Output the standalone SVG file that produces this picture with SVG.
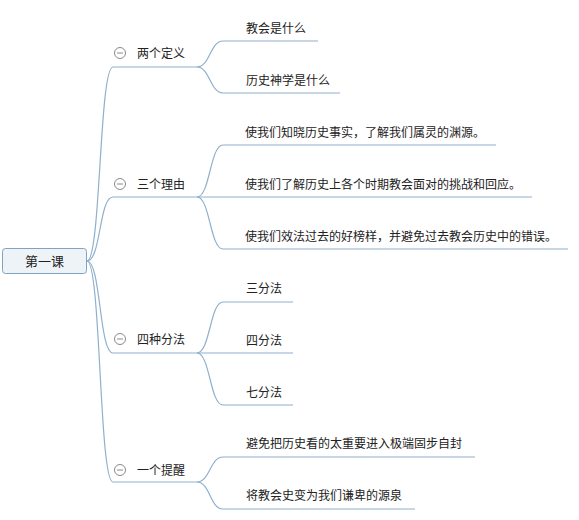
<svg xmlns="http://www.w3.org/2000/svg" width="579" height="520" viewBox="0 0 579 520">
<style>
.ln{fill:none;stroke:#8fb0cc;stroke-width:1.2}
.t{font-family:"Noto Sans CJK SC","Noto Sans",sans-serif;font-size:12px;fill:#222}
.r{font-family:"Noto Sans CJK SC","Noto Sans",sans-serif;font-size:13px;fill:#222}
.c{fill:#fff;stroke:#8a8a8a;stroke-width:1}
.m{stroke:#8a8a8a;stroke-width:1}
</style>
<rect width="579" height="520" fill="#ffffff"/>
<g id="connectors">
<path class="ln" d="M87,261 C101,261 99,67 113,67 H197"/>
<path class="ln" d="M87,261 C101,261 99,197 113,197 H197"/>
<path class="ln" d="M87,261 C101,261 99,353 113,353 H197"/>
<path class="ln" d="M87,261 C101,261 99,482 113,482 H197"/>
<path class="ln" d="M197,67 C210,67 210,41 223,41 H318"/>
<path class="ln" d="M197,67 C210,67 210,93 223,93 H340"/>
<path class="ln" d="M197,197 C210,197 210,145 223,145 H496"/>
<path class="ln" d="M197,197 H532"/>
<path class="ln" d="M197,197 C210,197 210,249 223,249 H568"/>
<path class="ln" d="M197,353 C210,353 210,302 223,302 H293"/>
<path class="ln" d="M197,353 H293"/>
<path class="ln" d="M197,353 C210,353 210,405 223,405 H293"/>
<path class="ln" d="M197,482 C210,482 210,457 223,457 H475"/>
<path class="ln" d="M197,482 C210,482 210,509 223,509 H415"/>
</g>
<g id="root">
<rect x="2.5" y="248.5" width="84" height="25" rx="3" fill="#eef3f8" stroke="#7fa3c4" stroke-width="1"/>
<text class="r" x="44.5" y="265.5" text-anchor="middle">第一课</text>
</g>
<g id="n1">
<circle class="c" cx="120" cy="53" r="5.5"/><line class="m" x1="117" y1="53" x2="123" y2="53"/>
<text class="t" x="137" y="58">两个定义</text>
</g>
<g id="n1a"><text class="t" x="246" y="33">教会是什么</text></g>
<g id="n1b"><text class="t" x="246" y="85">历史神学是什么</text></g>
<g id="n2">
<circle class="c" cx="120" cy="184" r="5.5"/><line class="m" x1="117" y1="184" x2="123" y2="184"/>
<text class="t" x="137" y="189">三个理由</text>
</g>
<g id="n2a"><text class="t" x="245" y="137">使我们知晓历史事实，了解我们属灵的渊源。</text></g>
<g id="n2b"><text class="t" x="245" y="189">使我们了解历史上各个时期教会面对的挑战和回应。</text></g>
<g id="n2c"><text class="t" x="245" y="241">使我们效法过去的好榜样，并避免过去教会历史中的错误。</text></g>
<g id="n3">
<circle class="c" cx="120" cy="339" r="5.5"/><line class="m" x1="117" y1="339" x2="123" y2="339"/>
<text class="t" x="137" y="344">四种分法</text>
</g>
<g id="n3a"><text class="t" x="246" y="293">三分法</text></g>
<g id="n3b"><text class="t" x="246" y="345">四分法</text></g>
<g id="n3c"><text class="t" x="246" y="397">七分法</text></g>
<g id="n4">
<circle class="c" cx="120" cy="470" r="5.5"/><line class="m" x1="117" y1="470" x2="123" y2="470"/>
<text class="t" x="137" y="475">一个提醒</text>
</g>
<g id="n4a"><text class="t" x="246" y="448">避免把历史看的太重要进入极端固步自封</text></g>
<g id="n4b"><text class="t" x="246" y="500">将教会史变为我们谦卑的源泉</text></g>
</svg>
